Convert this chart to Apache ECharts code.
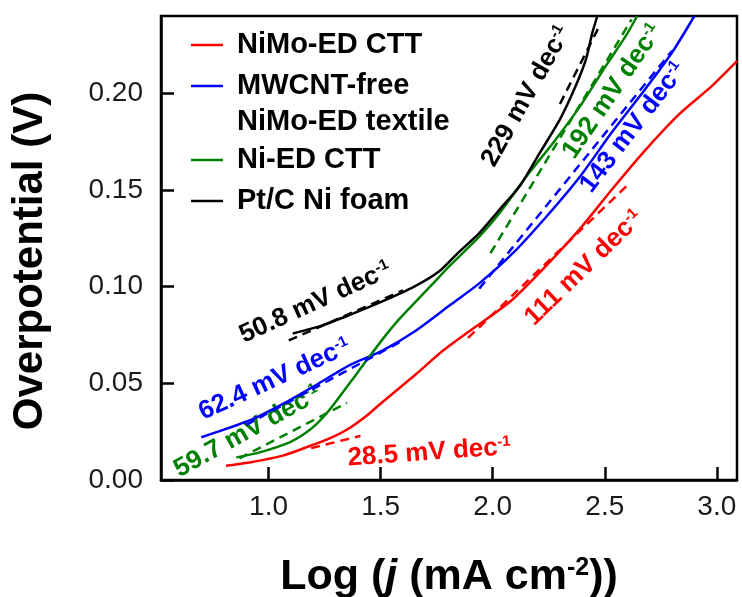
<!DOCTYPE html>
<html>
<head>
<meta charset="utf-8">
<script src="https://cdn.jsdelivr.net/npm/echarts@6/dist/echarts.min.js"></script>
<style>
  html, body { margin: 0; padding: 0; background: #fff; }
  #chart { width: 742px; height: 597px; }
</style>
</head>
<body>
<div id="chart"></div>
<script>
// Tafel plots: overpotential vs log current density
const seriesNames = ['NiMo-ED CTT', 'MWCNT-free NiMo-ED textile', 'Ni-ED CTT', 'Pt/C Ni foam']
const legendLines = [['NiMo-ED CTT'], ['MWCNT-free', 'NiMo-ED textile'], ['Ni-ED CTT'], ['Pt/C Ni foam']]
const xTicks = [1.0, 1.5, 2.0, 2.5, 3.0]
const yTicks = [0, 0.05, 0.10, 0.15, 0.20]

const nimoX = [0.81, 0.915, 1.064, 1.21, 1.285, 1.36, 1.44, 1.51, 1.66, 1.78, 1.92, 2.00, 2.09, 2.24, 2.39, 2.53, 2.68, 2.83, 2.98, 3.09]
const nimoY = [0.0074, 0.0091, 0.0126, 0.0187, 0.0222, 0.0268, 0.0335, 0.0405, 0.055, 0.0671, 0.079, 0.0855, 0.0935, 0.111, 0.130, 0.150, 0.1705, 0.189, 0.204, 0.2166]

const mwcntX = [0.70, 0.915, 1.064, 1.21, 1.36, 1.51, 1.66, 1.81, 1.94, 2.09, 2.24, 2.39, 2.53, 2.68, 2.80, 2.90]
const mwcntY = [0.0221, 0.0308, 0.0394, 0.049, 0.0593, 0.0671, 0.0775, 0.0905, 0.1017, 0.1173, 0.1363, 0.157, 0.1796, 0.2021, 0.2211, 0.2400]

const niX = [0.856, 0.96, 1.094, 1.155, 1.21, 1.255, 1.30, 1.39, 1.435, 1.51, 1.57, 1.63, 1.73, 1.81, 1.94, 2.03, 2.15, 2.27, 2.39, 2.505, 2.594, 2.645]
const niY = [0.0117, 0.0143, 0.0195, 0.0235, 0.0285, 0.0340, 0.0405, 0.0545, 0.0615, 0.0730, 0.0815, 0.0890, 0.1012, 0.111, 0.1259, 0.138, 0.157, 0.1744, 0.1934, 0.2142, 0.2297, 0.2400]

const ptX = [1.108, 1.24, 1.36, 1.51, 1.65, 1.76, 1.85, 1.94, 2.03, 2.12, 2.21, 2.30, 2.37, 2.416, 2.445, 2.467]
const ptY = [0.0758, 0.080, 0.0853, 0.0925, 0.100, 0.1078, 0.118, 0.1277, 0.1398, 0.1519, 0.1692, 0.1865, 0.2038, 0.2176, 0.2315, 0.2400]

// linear Tafel fits (dashed), end points
const fitSeriesIdx = [0, 0, 1, 1, 2, 2, 3, 3]
const fitStart = [[1.19, 0.0165], [1.89, 0.0735], [0.90, 0.0285], [1.94, 0.0990], [0.87, 0.0112], [1.99, 0.1173], [1.09, 0.0722], [2.30, 0.1945]]
const fitEnd = [[1.41, 0.0228], [2.60, 0.1523], [1.60, 0.0722], [2.80, 0.2220], [1.35, 0.0399], [2.62, 0.2383], [1.60, 0.0981], [2.48, 0.2357]]

// slope annotations
const slopeText = ['28.5', '111', '62.4', '143', '59.7', '192', '50.8', '229']
const slopeAt = [[1.717, 0.0142], [2.408, 0.1097], [1.027, 0.0520], [2.627, 0.1823], [0.906, 0.0250], [2.535, 0.2010], [1.209, 0.0918], [2.150, 0.1985]]
const slopeAngle = [4, 44, 24.6, 52.5, 29, 55.6, 24.5, 60.7]

const colors = ['#ff0000', '#0000ff', '#008000', '#000000']
const FONT = '"Liberation Sans", Arial, sans-serif'

const curves = [[nimoX, nimoY], [mwcntX, mwcntY], [niX, niY], [ptX, ptY]]

const chart = echarts.init(document.getElementById('chart'))

const series = curves.map(([xs, ys], i) => ({
  name: seriesNames[i],
  type: 'line',
  data: xs.map((x, k) => [x, ys[k]]),
  showSymbol: false,
  smooth: 0.25,
  silent: true,
  lineStyle: { color: colors[i], width: 2.5 },
  itemStyle: { color: colors[i] },
  z: 2,
}))

fitStart.forEach((p, i) => {
  const c = colors[fitSeriesIdx[i]]
  series.push({
    type: 'line',
    data: [p, fitEnd[i]],
    showSymbol: false,
    silent: true,
    lineStyle: { color: c, width: 2.5, type: [9, 6] },
    z: 3,
  })
})

chart.setOption({
  animation: false,
  grid: {
    left: 161, right: 5, top: 16, bottom: 117,
    outerBoundsMode: 'none',
    containLabel: false,
    show: true, borderColor: '#000', borderWidth: 2.5,
  },
  xAxis: {
    type: 'value',
    min: 0.52,
    max: 3.09,
    name: '{n|Log (}{i|j}{n| (mA cm}{s|-2}{n|))}',
    nameLocation: 'middle',
    nameGap: 76,
    nameTextStyle: {
      rich: {
        n: { fontFamily: FONT, fontWeight: 'bold', fontSize: 43, color: '#000' },
        i: { fontFamily: FONT, fontWeight: 'bold', fontStyle: 'italic', fontSize: 43, color: '#000' },
        s: { fontFamily: FONT, fontWeight: 'bold', fontSize: 25, color: '#000', verticalAlign: 'top' },
      },
    },
    axisLine: { lineStyle: { color: '#000', width: 2.5 } },
    axisTick: { inside: true, length: 13, lineStyle: { color: '#000', width: 2.5 }, customValues: xTicks },
    axisLabel: {
      customValues: xTicks,
      formatter: (v) => v.toFixed(1),
      color: '#1a1a1a',
      fontFamily: FONT,
      fontSize: 28,
      margin: 13,
    },
    splitLine: { show: false },
  },
  yAxis: {
    type: 'value',
    min: 0,
    max: 0.24,
    name: 'Overpotential (V)',
    nameLocation: 'middle',
    nameGap: 110,
    nameTextStyle: {
      fontFamily: FONT, fontWeight: 'bold', fontSize: 42, color: '#000',
      padding: [0, 26, 0, 0],
    },
    axisLine: { lineStyle: { color: '#000', width: 2.5 } },
    axisTick: { inside: true, length: 13, lineStyle: { color: '#000', width: 2.5 }, customValues: yTicks },
    axisLabel: {
      customValues: yTicks,
      formatter: (v) => v.toFixed(2),
      color: '#1a1a1a',
      fontFamily: FONT,
      fontSize: 28,
      margin: 18,
    },
    splitLine: { show: false },
  },
  series,
})

// legend drawn by hand so the two-line entry keeps its swatch on the first line
const legendRowY = [45, 86, 160, 201]
const lineGap = 36
const graphics = []
legendLines.forEach((lines, i) => {
  const y0 = legendRowY[i]
  graphics.push({
    type: 'line',
    shape: { x1: 191, y1: y0, x2: 223, y2: y0 },
    style: { stroke: colors[i], lineWidth: 2.5 },
    silent: true,
  })
  lines.forEach((t, k) => {
    graphics.push({
      type: 'text',
      x: 237,
      y: y0 + k * lineGap,
      style: { text: t, fill: '#000', font: 'bold 29px ' + FONT, align: 'left', verticalAlign: 'middle' },
      silent: true,
    })
  })
})

slopeText.forEach((t, i) => {
  const [px, py] = chart.convertToPixel({ gridIndex: 0 }, slopeAt[i])
  const c = colors[fitSeriesIdx[i]]
  graphics.push({
    type: 'text',
    x: px,
    y: py,
    rotation: slopeAngle[i] * Math.PI / 180,
    silent: true,
    style: {
      text: '{a|' + t + ' mV dec}{s|-1}',
      align: 'center',
      verticalAlign: 'middle',
      rich: {
        a: { fontFamily: FONT, fontWeight: 'bold', fontSize: 26, fill: c, color: c },
        s: { fontFamily: FONT, fontWeight: 'bold', fontSize: 15, fill: c, color: c, verticalAlign: 'top' },
      },
    },
  })
})

chart.setOption({ graphic: graphics })

window.addEventListener('resize', () => chart.resize())
</script>
</body>
</html>
